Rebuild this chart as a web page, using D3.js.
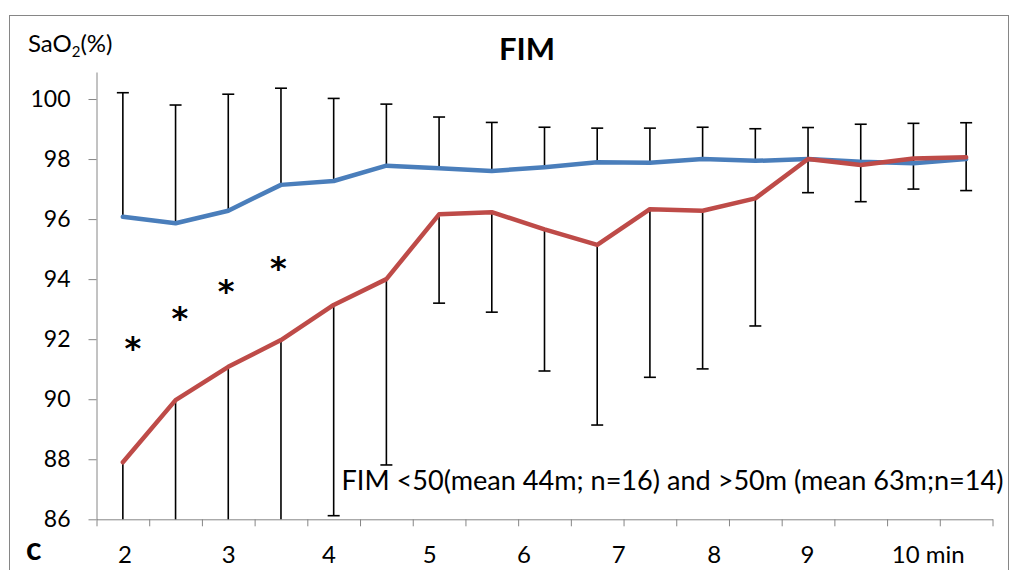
<!DOCTYPE html>
<html>
<head>
<meta charset="utf-8">
<script src="https://cdn.jsdelivr.net/npm/d3@7"></script>
<style>
  html, body { margin: 0; padding: 0; background: #fff; }
  svg { display: block; font-family: Lato, "Open Sans", sans-serif; }
</style>
</head>
<body>
<script>
// ---- data ----
const categories = ["2","2.5","3","3.5","4","4.5","5","5.5","6","6.5","7","7.5","8","8.5","9","9.5","10"];
const blueMean = [96.08, 95.86, 96.28, 97.14, 97.27, 97.78, 97.69, 97.60, 97.73, 97.89, 97.88, 98.00, 97.94, 98.00, 97.91, 97.86, 98.00];
const blueSD   = [4.13, 3.94, 3.88, 3.22, 2.75, 2.05, 1.71, 1.62, 1.33, 1.14, 1.15, 1.06, 1.07, 1.05, 1.25, 1.33, 1.21];
const redMean  = [87.90, 89.97, 91.08, 91.97, 93.14, 94.00, 96.16, 96.23, 95.66, 95.14, 96.33, 96.28, 96.69, 98.00, 97.80, 98.02, 98.06];
const redSD    = [6.5, 7.0, 7.2, 7.1, 7.02, 6.19, 2.96, 3.33, 4.72, 6.00, 5.60, 5.27, 4.25, 1.12, 1.22, 1.02, 1.11];
const yTicks = [86, 88, 90, 92, 94, 96, 98, 100];
const xLabels = ["2", "3", "4", "5", "6", "7", "8", "9", "10 min"];
const xLabelAt = [0.04, 2.01, 3.91, 5.82, 7.61, 9.41, 11.22, 12.99, 15.28];   // fractional category index
const starLevel = [91.98, 92.97, 93.87, 94.64];
const starAt = [0.19, 1.08, 1.96, 2.95];
const title = "FIM";
const yLabel = "SaO";
const note = "FIM <50(mean 44m; n=16) and >50m (mean 63m;n=14)";
const panel = "c";

// ---- layout ----
const W = 1013, H = 570;
const svg = d3.select("body").append("svg").attr("width", W).attr("height", H);

const axisColor = "#868686";
const blue = "#4A7EBB", red = "#BE4B48";

// outer chart border
svg.append("rect").attr("x", 9.5).attr("y", 15.5).attr("width", 999).attr("height", 600)
  .attr("fill", "none").attr("stroke", axisColor).attr("stroke-width", 1);

const x = d3.scaleBand().domain(categories).range([96.5, 992.5]).padding(0);
const cx = i => x(categories[i]) + x.bandwidth() / 2;
const xf = f => x.range()[0] + (f + 0.5) * x.step();
const y = d3.scaleLinear().domain([86, 100.9]).range([519.3, 72]);
const yMin = y.domain()[0];

// y axis
const yAxis = svg.append("g").attr("transform", "translate(96.5,0)")
  .call(d3.axisLeft(y).tickValues(yTicks).tickFormat(d3.format("d")).tickSize(8).tickSizeOuter(0).tickPadding(18));
yAxis.select(".domain").attr("stroke", axisColor);
yAxis.selectAll(".tick line").attr("stroke", axisColor);
yAxis.selectAll(".tick text").attr("font-family", "Lato, sans-serif").attr("font-size", 23).attr("fill", "#000");

// x axis (category boundaries)
const xb = d3.scaleLinear().domain([0, categories.length]).range(x.range());
const xAxis = svg.append("g").attr("transform", `translate(0,${y(yMin)})`)
  .call(d3.axisBottom(xb).tickValues(d3.range(categories.length + 1)).tickFormat("").tickSize(7).tickSizeOuter(0));
xAxis.select(".domain").attr("stroke", axisColor);
xAxis.selectAll(".tick line").attr("stroke", axisColor);

svg.append("g").selectAll("text").data(xLabels).join("text")
  .attr("x", (d, i) => xf(xLabelAt[i]))
  .attr("y", 563)
  .attr("text-anchor", "middle")
  .attr("font-size", 24)
  .attr("fill", "#000")
  .text(d => d);

// error bars
const cap = 6;
const bars = svg.append("g").attr("stroke", "#000").attr("stroke-width", 1.6);
categories.forEach((c, i) => {
  const xc = cx(i);
  const top = blueMean[i] + blueSD[i];
  bars.append("line").attr("x1", xc).attr("x2", xc).attr("y1", y(blueMean[i])).attr("y2", y(top));
  bars.append("line").attr("x1", xc - cap).attr("x2", xc + cap).attr("y1", y(top)).attr("y2", y(top));
  const low = redMean[i] - redSD[i];
  const lowC = Math.max(low, yMin);
  bars.append("line").attr("x1", xc).attr("x2", xc).attr("y1", y(redMean[i])).attr("y2", y(lowC));
  if (low >= yMin) {
    bars.append("line").attr("x1", xc - cap).attr("x2", xc + cap).attr("y1", y(low)).attr("y2", y(low));
  }
});

// lines
const line = d3.line().x((d, i) => cx(i)).y(d => y(d));
svg.append("path").datum(blueMean).attr("d", line)
  .attr("fill", "none").attr("stroke", blue).attr("stroke-width", 4.5)
  .attr("stroke-linejoin", "round").attr("stroke-linecap", "round");
svg.append("path").datum(redMean).attr("d", line)
  .attr("fill", "none").attr("stroke", red).attr("stroke-width", 4.5)
  .attr("stroke-linejoin", "round").attr("stroke-linecap", "round");

// significance asterisks
svg.append("g").selectAll("text").data(starLevel).join("text")
  .attr("x", (d, i) => xf(starAt[i]))
  .attr("y", d => y(d) + 19)
  .attr("text-anchor", "middle")
  .attr("font-family", "'DejaVu Sans', sans-serif")
  .attr("font-size", 32)
  .attr("font-weight", "bold")
  .attr("fill", "#000")
  .text("*");

// title
svg.append("text").attr("x", 527).attr("y", 60).attr("text-anchor", "middle")
  .attr("font-size", 31).attr("font-weight", "bold").attr("fill", "#000").text(title);

// y label
const yl = svg.append("text").attr("x", 28).attr("y", 52).attr("font-size", 24).attr("fill", "#000");
yl.append("tspan").text(yLabel);
yl.append("tspan").attr("font-size", 15).attr("dy", 5).text("2");
yl.append("tspan").attr("dy", -5).text("(%)");

// note
svg.append("text").attr("x", 341.5).attr("y", 490).attr("font-size", 27).attr("fill", "#000")
  .attr("textLength", 662).attr("lengthAdjust", "spacingAndGlyphs").text(note);

// panel letter
svg.append("text").attr("x", 26).attr("y", 560).attr("font-size", 32).attr("font-weight", "bold")
  .attr("fill", "#000").text(panel);
</script>
</body>
</html>
